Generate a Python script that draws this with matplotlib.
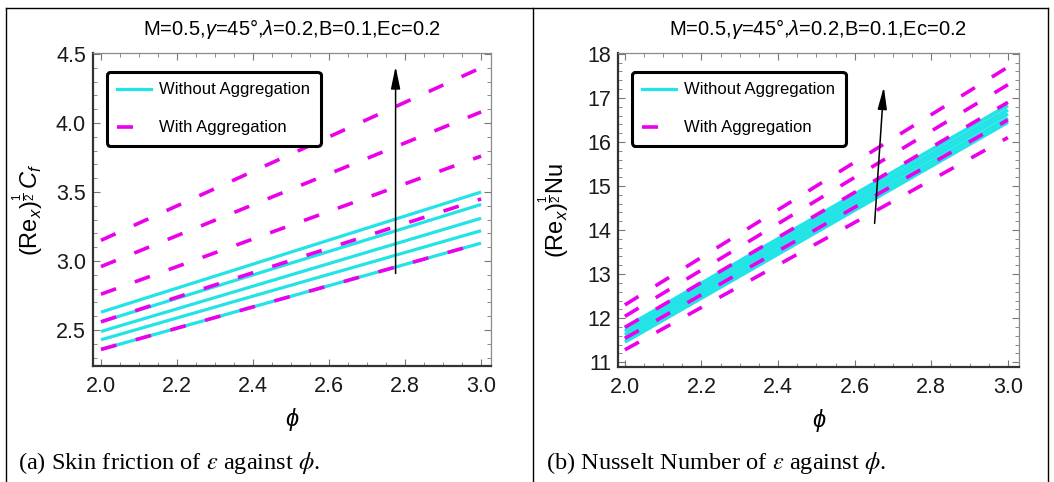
import matplotlib
matplotlib.use("Agg")
import matplotlib.pyplot as plt
from matplotlib.lines import Line2D
from matplotlib.ticker import MultipleLocator

plt.rcParams['font.family'] = ['Liberation Sans', 'DejaVu Sans']
plt.rcParams['mathtext.fontset'] = 'custom'
plt.rcParams['mathtext.rm'] = 'Liberation Sans'
plt.rcParams['mathtext.it'] = 'Liberation Sans:italic'
plt.rcParams['mathtext.bf'] = 'Liberation Sans:bold'

# ---------------- data ----------------
phi = [2.0, 3.0]

# (a) skin friction
cf_without = [[2.63, 3.50], [2.56, 3.41], [2.49, 3.31], [2.43, 3.22], [2.36, 3.13]]
cf_with = [[3.15, 4.40], [2.96, 4.08], [2.76, 3.76], [2.56, 3.45], [2.36, 3.13]]
cf_arrow_phi = [2.775, 2.775]
cf_arrow_val = [2.91, 4.41]

# (b) Nusselt number
nu_without = [[11.78, 16.83], [11.70, 16.73], [11.62, 16.64], [11.54, 16.54], [11.46, 16.45]]
nu_with = [[12.30, 17.70], [12.04, 17.30], [11.79, 16.90], [11.54, 16.50], [11.28, 16.10]]
nu_arrow_phi = [2.652, 2.676]
nu_arrow_val = [14.15, 17.25]

title_txt = r"M=0.5,$\gamma$=45°,$\lambda$=0.2,B=0.1,Ec=0.2"
legend_labels = ["Without Aggregation", "With Aggregation"]
ylabels = [r"$(\mathrm{Re}_x)^{\frac{1}{2}}\,C_f$", r"$(\mathrm{Re}_x)^{\frac{1}{2}}\mathrm{Nu}$"]
captions = [r"(a) Skin friction of $\varepsilon$ against $\phi$.",
            r"(b) Nusselt Number of $\varepsilon$ against $\phi$."]

CYAN = '#22E3E6'
MAG = '#EC00EC'

W, H = 1054, 482
fig = plt.figure(figsize=(W / 100, H / 100), dpi=100)


def px_axes(x0, y0, x1, y1):
    return fig.add_axes([x0 / W, 1 - y1 / H, (x1 - x0) / W, (y1 - y0) / H])


ax1 = px_axes(93, 53, 491, 366)
ax2 = px_axes(618, 53, 1019, 367)

lw_m = 2.6
dash = (16 / 1.389 / lw_m, 20 / 1.389 / lw_m)


def style(ax, xlim, ylim, ymaj, ymin, ylab, labpad):
    ax.set_xlim(*xlim)
    ax.set_ylim(*ylim)
    ax.xaxis.set_major_locator(MultipleLocator(0.2))
    ax.xaxis.set_minor_locator(MultipleLocator(0.05))
    ax.yaxis.set_major_locator(MultipleLocator(ymaj))
    ax.yaxis.set_minor_locator(MultipleLocator(ymin))
    ax.tick_params(which='both', direction='in', top=True, right=True, color='#777777')
    ax.tick_params(which='major', length=5, width=0.8, labelsize=15.5, pad=5, labelcolor='#1a1a1a')
    ax.tick_params(axis='x', which='major', pad=7)
    ax.tick_params(which='minor', length=3, width=0.6)
    for s in ['left', 'bottom']:
        ax.spines[s].set_linewidth(1.6)
        ax.spines[s].set_color('#333333')
    for s in ['top', 'right']:
        ax.spines[s].set_linewidth(0.9)
        ax.spines[s].set_color('#8a8a8a')
    ax.set_title(title_txt, fontsize=14.5, pad=13)
    ax.set_xlabel('ϕ', fontsize=17, style='italic', labelpad=8)
    ax.set_ylabel(ylab, fontsize=17, labelpad=labpad)
    handles = [Line2D([], [], color=CYAN, lw=2.3),
               Line2D([], [], color=MAG, lw=lw_m, linestyle=(0, dash))]
    leg = ax.legend(handles, legend_labels, loc='upper left', bbox_to_anchor=(0.034, 0.939),
                    borderaxespad=0, fontsize=12, handlelength=2.05, handletextpad=0.5,
                    labelspacing=1.38, borderpad=0.62, framealpha=1, fancybox=True)
    fr = leg.get_frame()
    fr.set_edgecolor('black')
    fr.set_linewidth(2.2)
    leg.set_zorder(5)


for ax, wo, wi, ap, av, lwc in [(ax1, cf_without, cf_with, cf_arrow_phi, cf_arrow_val, 2.3),
                                (ax2, nu_without, nu_with, nu_arrow_phi, nu_arrow_val, 2.7)]:
    for v in wo:
        ax.plot(phi, v, color=CYAN, lw=lwc, solid_capstyle='butt', zorder=2)
    for v in wi:
        ax.plot(phi, v, color=MAG, lw=lw_m, linestyle=(0, dash), zorder=3)
    ax.annotate('', xy=(ap[1], av[1]), xytext=(ap[0], av[0]),
                arrowprops=dict(arrowstyle='-|>,head_length=1.35,head_width=0.28',
                                lw=1.1, color='black', shrinkA=0, shrinkB=0,
                                mutation_scale=10), zorder=4)

style(ax1, (1.979, 3.026), (2.24, 4.507), 0.5, 0.1, ylabels[0], 7)
style(ax2, (1.982, 3.029), (10.89, 18.02), 1, 0.2, ylabels[1], 11)

# captions
fig.text(18 / W, 1 - 469 / H, captions[0], fontsize=17.6, family='Liberation Serif',
         math_fontfamily='stix', va='baseline')
fig.text(546 / W, 1 - 469 / H, captions[1], fontsize=17.6, family='Liberation Serif',
         math_fontfamily='stix', va='baseline')

# table borders
for (x0, y0, x1, y1) in [(6, 8, 1048, 8), (6, 8, 6, 482), (533, 8, 533, 482), (1048, 8, 1048, 482)]:
    fig.add_artist(Line2D([x0 / W, x1 / W], [1 - y0 / H, 1 - y1 / H], transform=fig.transFigure,
                          color='black', lw=1.0))

fig.savefig('out.png', dpi=100)
